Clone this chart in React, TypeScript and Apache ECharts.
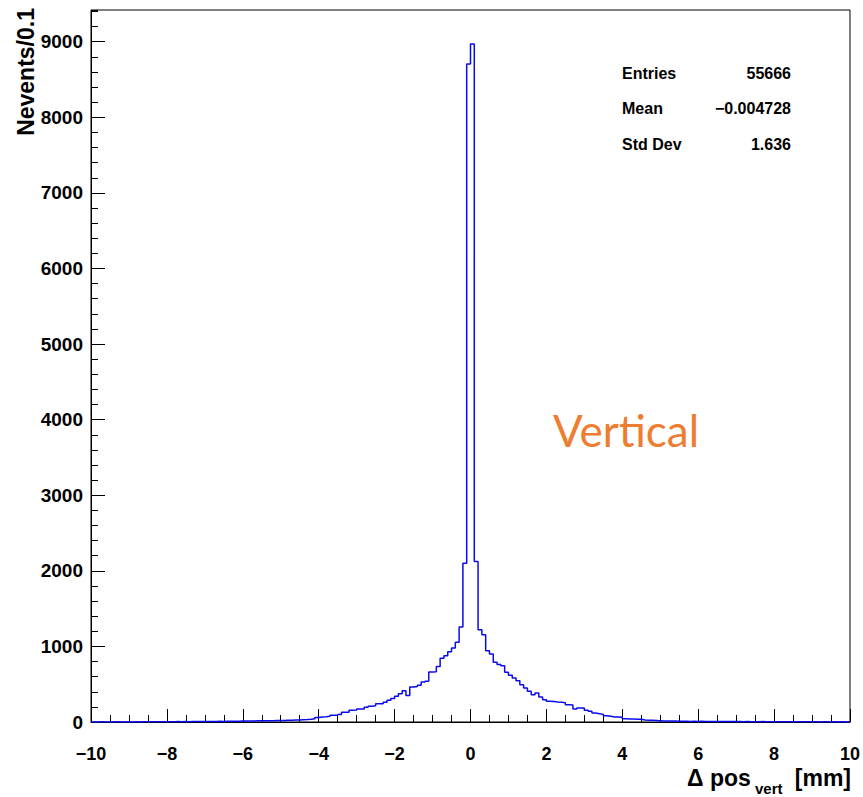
import React, { useEffect, useRef } from 'react';
import * as echarts from 'echarts';

// Histogram binning (ROOT TH1: 200 bins of 0.1 mm from -10 to 10)
const X_MIN = -10;
const X_MAX = 10;
const BIN_WIDTH = 0.1;
const Y_MAX = 9420;

// Bin contents
const countsM10toM5 = [
  1, 0, 2, 1, 1, 0, 2, 1, 1, 2,
  1, 2, 1, 3, 2, 2, 3, 2, 3, 2,
  4, 3, 5, 4, 5, 4, 6, 5, 6, 7,
  6, 8, 7, 9, 8, 10, 9, 11, 10, 12,
  13, 12, 14, 16, 15, 17, 16, 18, 19, 20,
];
const countsM5to0 = [
  21, 23, 24, 26, 28, 31, 33, 37, 44, 60,
  66, 70, 75, 88, 90, 100, 128, 130, 154, 160,
  172, 172, 195, 207, 215, 243, 243, 260, 287, 310,
  340, 375, 415, 350, 463, 470, 485, 530, 540, 660,
  665, 735, 842, 877, 930, 980, 1054, 1257, 2100, 8705,
];
const counts0to5 = [
  8970, 2125, 1222, 1155, 944, 900, 790, 760, 745, 657,
  617, 582, 547, 494, 450, 406, 362, 384, 330, 295,
  275, 270, 265, 262, 255, 229, 225, 172, 185, 185,
  154, 141, 119, 110, 101, 84, 75, 66, 66, 62,
  42, 40, 40, 38, 35, 26, 22, 22, 20, 18,
];
const counts5to10 = [
  14, 13, 12, 13, 11, 9, 10, 8, 9, 8,
  9, 7, 8, 7, 6, 7, 5, 6, 5, 6,
  5, 4, 5, 4, 3, 4, 5, 3, 4, 3,
  3, 2, 3, 4, 2, 3, 2, 3, 2, 2,
  2, 1, 2, 3, 1, 2, 1, 2, 1, 1,
];

const statsLabels = ['Entries', 'Mean', 'Std Dev'];
const statsValues = ['55666', '\u22120.004728', '1.636'];

const yTitle = 'Nevents/0.1';
const xTitleMain = '\u0394 pos';
const xTitleSub = 'vert';
const xTitleUnit = '[mm]';
const annotation = 'Vertical';

const FONT = '"Liberation Sans", Arial, Helvetica, sans-serif';

export default function App() {
  const ref = useRef<HTMLDivElement>(null);

  useEffect(() => {
    if (!ref.current) return;
    const chart = echarts.init(ref.current, null, { renderer: 'svg' });

    const counts = [...countsM10toM5, ...countsM5to0, ...counts0to5, ...counts5to10];
    const points: number[][] = counts.map((c, i) => [X_MIN + i * BIN_WIDTH, c]);
    points.push([X_MAX, counts[counts.length - 1]]);

    const fmt = (v: number) => (v < 0 ? '\u2212' + Math.abs(v) : String(v));

    const statsGraphics: any[] = [];
    const statsY = [73.7, 108.7, 144.4];
    statsLabels.forEach((lab, i) => {
      statsGraphics.push({
        type: 'text',
        x: 622,
        y: statsY[i],
        style: {
          text: lab,
          fill: '#000',
          font: `bold 16px ${FONT}`,
          textAlign: 'left',
          textVerticalAlign: 'middle',
        },
      });
      statsGraphics.push({
        type: 'text',
        x: 791,
        y: statsY[i],
        style: {
          text: statsValues[i],
          fill: '#000',
          font: `bold 16px ${FONT}`,
          textAlign: 'right',
          textVerticalAlign: 'middle',
        },
      });
    });

    const option: any = {
      animation: false,
      backgroundColor: '#ffffff',
      grid: {
        left: 91,
        top: 10,
        width: 760,
        height: 712,
        show: true,
        borderColor: '#000',
        borderWidth: 1,
        backgroundColor: 'transparent',
        containLabel: false,
      },
      xAxis: {
        type: 'value',
        min: X_MIN,
        max: X_MAX,
        interval: 2,
        axisLine: { show: true, onZero: false, lineStyle: { color: '#000', width: 1 } },
        axisTick: { show: true, inside: true, length: 13, lineStyle: { color: '#000', width: 1 } },
        minorTick: { show: true, splitNumber: 4, length: 7, lineStyle: { color: '#000', width: 1 } },
        axisLabel: {
          margin: 23,
          color: '#000',
          fontFamily: FONT,
          fontWeight: 'bold',
          fontSize: 18,
          formatter: fmt,
        },
        splitLine: { show: false },
        minorSplitLine: { show: false },
      },
      yAxis: [
        {
          type: 'value',
          position: 'left',
          min: 0,
          max: Y_MAX,
          interval: 1000,
          axisLine: { show: true, onZero: false, lineStyle: { color: '#000', width: 1 } },
          axisTick: { show: true, inside: true, length: 14, lineStyle: { color: '#000', width: 1 } },
          axisLabel: {
            margin: 8,
            color: '#000',
            fontFamily: FONT,
            fontWeight: 'bold',
            fontSize: 19,
            showMaxLabel: false,
            formatter: fmt,
          },
          splitLine: { show: false },
        },
        {
          type: 'value',
          position: 'left',
          min: 0,
          max: Y_MAX,
          interval: 200,
          axisLine: { show: false, onZero: false },
          axisTick: { show: true, inside: true, length: 7, lineStyle: { color: '#000', width: 1 } },
          axisLabel: { show: false },
          splitLine: { show: false },
        },
      ],
      series: [
        {
          type: 'line',
          step: 'end',
          data: points,
          showSymbol: false,
          symbol: 'none',
          lineStyle: { color: '#0a0aee', width: 1.5 },
          xAxisIndex: 0,
          yAxisIndex: 0,
          z: 5,
        },
      ],
      graphic: [
        {
          type: 'text',
          x: 26,
          y: 8,
          rotation: Math.PI / 2,
          style: {
            text: yTitle,
            fill: '#000',
            font: `bold 23px ${FONT}`,
            textAlign: 'right',
            textVerticalAlign: 'middle',
          },
        },
        {
          type: 'text',
          x: 687,
          y: 777.5,
          style: {
            text: xTitleMain,
            fill: '#000',
            font: `bold 23px ${FONT}`,
            textAlign: 'left',
            textVerticalAlign: 'middle',
          },
        },
        {
          type: 'text',
          x: 755,
          y: 788,
          style: {
            text: xTitleSub,
            fill: '#000',
            font: `bold 15px ${FONT}`,
            textAlign: 'left',
            textVerticalAlign: 'middle',
          },
        },
        {
          type: 'text',
          x: 851,
          y: 777.5,
          style: {
            text: xTitleUnit,
            fill: '#000',
            font: `bold 23px ${FONT}`,
            textAlign: 'right',
            textVerticalAlign: 'middle',
          },
        },
        {
          type: 'text',
          x: 553,
          y: 430,
          style: {
            text: annotation,
            fill: '#ED7D31',
            font: `44px Lato, "Open Sans", sans-serif`,
            textAlign: 'left',
            textVerticalAlign: 'middle',
          },
        },
        ...statsGraphics,
      ],
    };

    chart.setOption(option);
    return () => chart.dispose();
  }, []);

  return (
    <div
      ref={ref}
      style={{ position: 'absolute', left: 0, top: 0, width: 863, height: 797, background: '#fff' }}
    />
  );
}
